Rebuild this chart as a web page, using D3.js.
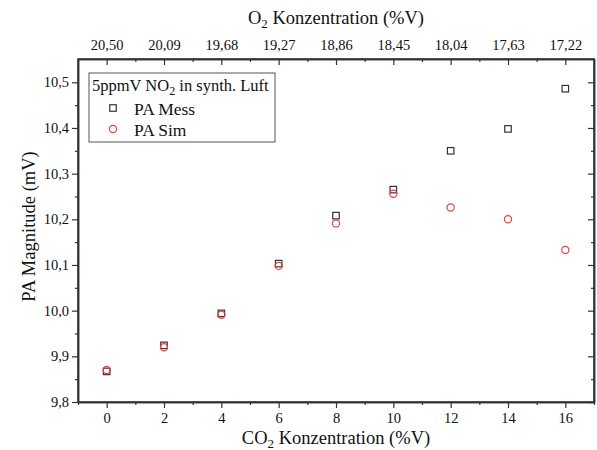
<!DOCTYPE html>
<html>
<head>
<meta charset="utf-8">
<script src="https://cdn.jsdelivr.net/npm/d3@7"></script>
<style>
  body { margin: 0; background: #fff; }
  svg { display: block; font-family: "Liberation Serif", "DejaVu Serif", serif; }
  .axis path, .axis line { stroke: #333; }
  .axis text { fill: #111; font-size: 14.5px; font-family: "Liberation Serif", serif; }
</style>
</head>
<body>
<svg width="597" height="450"></svg>
<script>
// data
var co2 = [0, 2, 4, 6, 8, 10, 12, 14, 16];
var paMess = [9.867, 9.924, 9.994, 10.103, 10.208, 10.265, 10.350, 10.398, 10.486];
var paSim = [9.870, 9.920, 9.991, 10.098, 10.191, 10.256, 10.226, 10.200, 10.133];
var o2Labels = ["20,50", "20,09", "19,68", "19,27", "18,86", "18,45", "18,04", "17,63", "17,22"];
var yTicks = [9.8, 9.9, 10.0, 10.1, 10.2, 10.3, 10.4, 10.5];
var seriesNames = ["PA Mess", "PA Sim"];

var svg = d3.select("svg"),
    margin = { top: 59, right: 3, bottom: 48, left: 78 },
    width = +svg.attr("width") - margin.left - margin.right,
    height = +svg.attr("height") - margin.top - margin.bottom;

var x = d3.scaleLinear().domain([-1, 17]).range([0, width]),
    y = d3.scaleLinear().domain([9.8, 10.551]).range([height, 0]);

var g = svg.append("g")
    .attr("transform", "translate(" + margin.left + "," + margin.top + ")");

var comma = function (d) { return d3.format(".1f")(d).replace(".", ","); };
var minorX = d3.range(-1, 18, 2);
var minorY = yTicks.map(function (d) { return d + 0.05; }).filter(function (d) { return d < 10.55; });

// bottom axis
g.append("g")
    .attr("class", "axis")
    .attr("transform", "translate(0," + height + ")")
    .call(d3.axisBottom(x).tickValues(co2).tickSize(6).tickPadding(5).tickSizeOuter(0));
g.append("g")
    .attr("class", "axis")
    .attr("transform", "translate(0," + height + ")")
    .call(d3.axisBottom(x).tickValues(minorX).tickSize(3).tickFormat("").tickSizeOuter(0));

// top axis with O2 labels, ticks pointing inward
g.append("g")
    .attr("class", "axis")
    .call(d3.axisTop(x).tickValues(co2).tickSize(-6).tickPadding(9)
        .tickFormat(function (d, i) { return o2Labels[i]; }).tickSizeOuter(0));
g.append("g")
    .attr("class", "axis")
    .call(d3.axisTop(x).tickValues(minorX).tickSize(-3).tickFormat("").tickSizeOuter(0));

// left axis
g.append("g")
    .attr("class", "axis")
    .call(d3.axisLeft(y).tickValues(yTicks).tickSize(6).tickPadding(3).tickFormat(comma).tickSizeOuter(0));
g.append("g")
    .attr("class", "axis")
    .call(d3.axisLeft(y).tickValues(minorY).tickSize(3).tickFormat("").tickSizeOuter(0));

// right axis, inward ticks
g.append("g")
    .attr("class", "axis")
    .attr("transform", "translate(" + width + ",0)")
    .call(d3.axisRight(y).tickValues(yTicks).tickSize(-6).tickFormat("").tickSizeOuter(0));
g.append("g")
    .attr("class", "axis")
    .attr("transform", "translate(" + width + ",0)")
    .call(d3.axisRight(y).tickValues(minorY).tickSize(-3).tickFormat("").tickSizeOuter(0));

g.selectAll(".axis path").attr("stroke-width", 1.5);
g.selectAll(".axis line").attr("stroke-width", 1.2);

// frame
g.append("rect")
    .attr("width", width).attr("height", height)
    .attr("fill", "none").attr("stroke", "#333").attr("stroke-width", 1.5);

// squares (measured)
var sq = 6.5;
g.selectAll(".mess")
    .data(co2)
    .enter().append("rect")
    .attr("class", "mess")
    .attr("x", function (d) { return x(d) - sq / 2; })
    .attr("y", function (d, i) { return y(paMess[i]) - sq / 2; })
    .attr("width", sq).attr("height", sq)
    .attr("fill", "none").attr("stroke", "#333").attr("stroke-width", 1.2);

// circles (simulated)
g.selectAll(".sim")
    .data(co2)
    .enter().append("circle")
    .attr("class", "sim")
    .attr("cx", function (d) { return x(d); })
    .attr("cy", function (d, i) { return y(paSim[i]); })
    .attr("r", 3.6)
    .attr("fill", "none").attr("stroke", "#f03c3c").attr("stroke-width", 1.2);

// axis titles
var bt = svg.append("text")
    .attr("x", margin.left + width / 2).attr("y", 444)
    .attr("text-anchor", "middle").attr("font-size", 18.5).attr("fill", "#111");
bt.append("tspan").text("CO");
bt.append("tspan").attr("dy", 4).attr("font-size", 13).text("2");
bt.append("tspan").attr("dy", -4).text(" Konzentration (%V)");

var tt = svg.append("text")
    .attr("x", margin.left + width / 2).attr("y", 24)
    .attr("text-anchor", "middle").attr("font-size", 18.5).attr("fill", "#111");
tt.append("tspan").text("O");
tt.append("tspan").attr("dy", 4).attr("font-size", 13).text("2");
tt.append("tspan").attr("dy", -4).text(" Konzentration (%V)");

svg.append("text")
    .attr("transform", "translate(35," + (margin.top + height / 2 - 4) + ") rotate(-90)")
    .attr("text-anchor", "middle").attr("font-size", 18.5).attr("fill", "#111")
    .text("PA Magnitude (mV)");

// legend
var lg = svg.append("g").attr("transform", "translate(89,73)");
lg.append("rect")
    .attr("width", 186).attr("height", 69)
    .attr("fill", "#fff").attr("stroke", "#555").attr("stroke-width", 1);
var lt = lg.append("text").attr("x", 3).attr("y", 18).attr("font-size", 16.5).attr("fill", "#111");
lt.append("tspan").text("5ppmV NO");
lt.append("tspan").attr("dy", 4).attr("font-size", 12).text("2");
lt.append("tspan").attr("dy", -4).text(" in synth. Luft");

var items = lg.selectAll(".item")
    .data(seriesNames)
    .enter().append("g")
    .attr("transform", function (d, i) { return "translate(0," + (35 + i * 21) + ")"; });
items.append("text")
    .attr("x", 45).attr("y", 7)
    .attr("font-size", 17.5).attr("fill", "#111")
    .text(function (d) { return d; });
items.filter(function (d, i) { return i === 0; }).append("rect")
    .attr("x", 24 - sq / 2).attr("y", -sq / 2).attr("width", sq).attr("height", sq)
    .attr("fill", "none").attr("stroke", "#333").attr("stroke-width", 1.2);
items.filter(function (d, i) { return i === 1; }).append("circle")
    .attr("cx", 24).attr("cy", 0).attr("r", 3.6)
    .attr("fill", "none").attr("stroke", "#f03c3c").attr("stroke-width", 1.2);
</script>
</body>
</html>
